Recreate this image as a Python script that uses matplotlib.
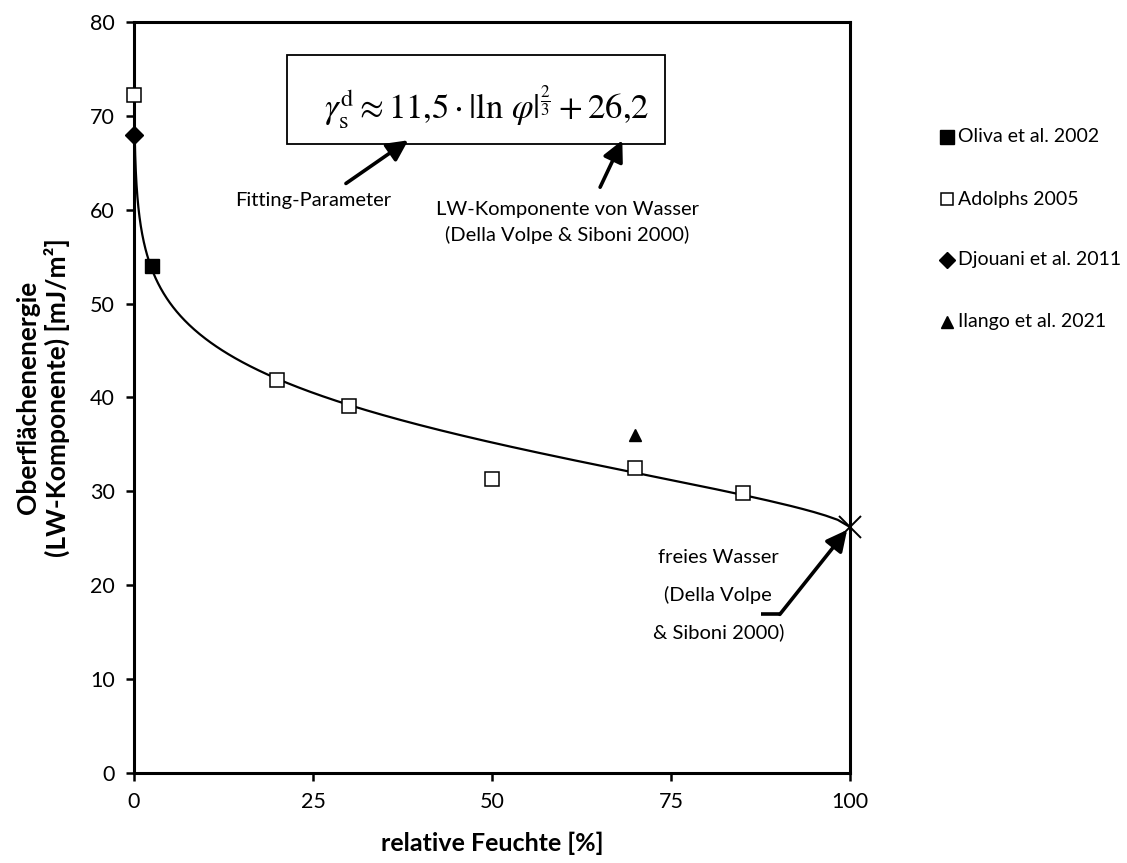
import numpy as np
import matplotlib
matplotlib.use("Agg")
import matplotlib.pyplot as plt
from matplotlib.patches import Rectangle

plt.rcParams.update({
    "font.family": ["Lato", "DejaVu Sans"],
    "font.size": 14,
    "mathtext.fontset": "stix",
})

W, H = 1127, 863

# Messdaten (relative Feuchte [%], Oberflächenenergie [mJ/m²])
oliva_x = [2.5]
oliva_y = [54.0]
adolphs_x = [0, 20, 30, 50, 70, 85]
adolphs_y = [72.2, 41.9, 39.1, 31.3, 32.5, 29.8]
djouani_x = [0]
djouani_y = [68.0]
ilango_x = [70]
ilango_y = [36.0]
wasser_x = [100]
wasser_y = [26.2]

# Fit-Parameter aus der Formel im Diagramm
fit_a = 11.5
fit_exp = 2.0 / 3.0
fit_b = 26.2
fit_rh_min = 0.1

rh = 10 ** np.linspace(np.log10(fit_rh_min), 2, 400)
fit_y = fit_a * np.abs(np.log(rh / 100)) ** fit_exp + fit_b

legend_labels = ["Oliva et al. 2002", "Adolphs 2005", "Djouani et al. 2011", "Ilango et al. 2021"]

fig = plt.figure(figsize=(W / 100, H / 100), dpi=100)
ax = fig.add_axes([134 / W, 1 - 773 / H, (850 - 134) / W, (773 - 22) / H])

ax.plot(rh, fit_y, color="black", lw=1.6, zorder=2)
ax.plot(wasser_x, wasser_y, marker="x", color="black", ms=16, mew=1.4,
        ls="none", zorder=3, clip_on=False)
styles = [
    dict(marker="s", color="black", ms=10.5),
    dict(marker="s", mfc="white", mec="black", mew=1.1, ms=9.5),
    dict(marker="D", color="black", ms=9),
    dict(marker="^", color="black", ms=9),
]
series = [(oliva_x, oliva_y), (adolphs_x, adolphs_y),
          (djouani_x, djouani_y), (ilango_x, ilango_y)]
for (xs, ys), st in zip(series, styles):
    ax.plot(xs, ys, ls="none", zorder=4, clip_on=False, **st)

ax.set_xlim(0, 100)
ax.set_ylim(0, 80)
ax.set_xticks([0, 25, 50, 75, 100])
ax.set_yticks(range(0, 81, 10))
for s in ax.spines.values():
    s.set_linewidth(2.2)
ax.tick_params(direction="out", length=6, width=1.8, pad=8, labelsize=15.5)
ax.set_xlabel("relative Feuchte [%]", fontweight="bold", fontsize=18, labelpad=14)
ax.set_ylabel("Oberflächenenergie\n(LW-Komponente) [mJ/m²]", fontweight="bold",
              fontsize=19, labelpad=14, linespacing=1.2)

# Formelkasten
ax.add_patch(Rectangle((21.4, 67.0), 52.8, 9.5, fc="white", ec="black",
                       lw=1.3, zorder=5))
ax.text(49.2, 69.6,
        r"$\gamma_{\mathrm{s}}^{\mathrm{d}} \approx 11{,}5 \cdot |\ln\,\varphi|^{\frac{2}{3}} + 26{,}2$",
        fontsize=25, ha="center", va="baseline", zorder=6)

arrow = dict(arrowstyle="-|>,head_length=0.9,head_width=0.45", color="black",
             lw=2.6, shrinkA=0, shrinkB=0)

ax.text(25.0, 61.0, "Fitting-Parameter", ha="center", va="center", fontsize=14.5)
ax.annotate("", xy=(38.3, 67.4), xytext=(29.6, 62.8), arrowprops=arrow, zorder=7)

lw_lines = ["LW-Komponente von Wasser", "(Della Volpe & Siboni 2000)"]
for yy, line in zip([60.0, 57.3], lw_lines):
    ax.text(60.5, yy, line, ha="center", va="center", fontsize=14.5)
ax.annotate("", xy=(68.2, 67.4), xytext=(65.1, 62.4), arrowprops=arrow, zorder=7)

fw_lines = ["freies Wasser", "(Della Volpe", "& Siboni 2000)"]
for yy, line in zip([23.0, 19.0, 15.0], fw_lines):
    ax.text(81.6, yy, line, ha="center", va="center", fontsize=14.5)
ax.plot([87.6, 90.2], [16.9, 16.9], color="black", lw=2.6, solid_capstyle="butt")
ax.annotate("", xy=(99.6, 25.9), xytext=(90.2, 16.9), arrowprops=arrow)

# Legende rechts neben dem Diagramm
leg_y = [137, 199, 260, 322]
for yy, st, lab in zip(leg_y, styles, legend_labels):
    st = dict(st)
    st["ms"] = st["ms"] * 0.9
    fig.add_artist(plt.Line2D([947 / W], [1 - yy / H], ls="none",
                              transform=fig.transFigure, **st))
    fig.text(958 / W, 1 - yy / H, lab, ha="left", va="center", fontsize=14)

fig.savefig("out.png", dpi=100)
